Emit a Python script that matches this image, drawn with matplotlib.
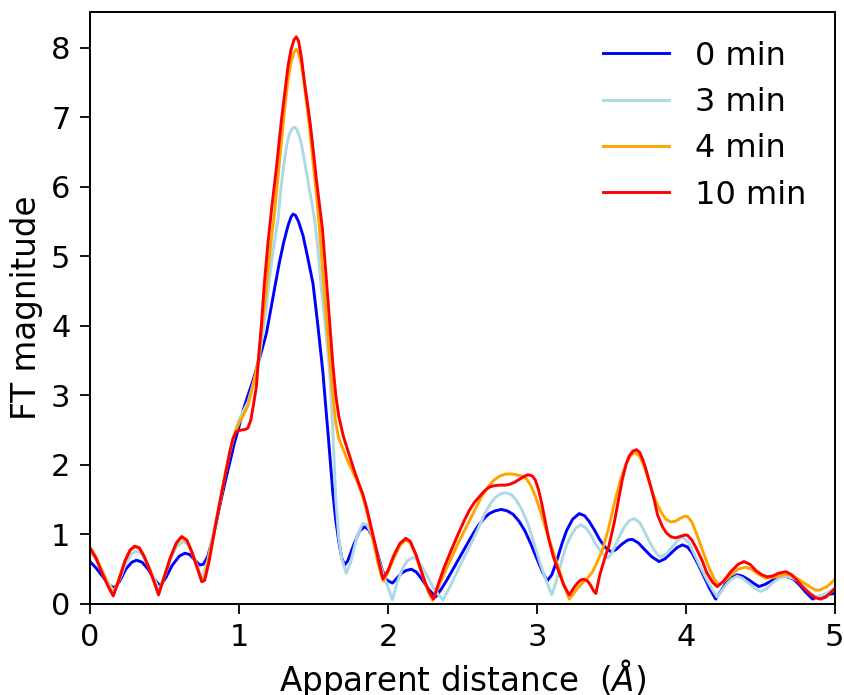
import matplotlib
matplotlib.use("Agg")
import matplotlib.pyplot as plt

# values
x_0min = [0.0, 0.04, 0.09, 0.13, 0.163, 0.20, 0.24, 0.28, 0.313, 0.35, 0.39, 0.43,
          0.47, 0.51, 0.55, 0.60, 0.637, 0.67, 0.70, 0.737, 0.76, 0.79, 0.83, 0.88,
          0.91, 0.94, 0.97, 1.0, 1.03, 1.06, 1.095, 1.14, 1.184, 1.21, 1.24, 1.27,
          1.30, 1.33, 1.35, 1.363, 1.38, 1.40, 1.43, 1.46, 1.497, 1.53, 1.564, 1.58,
          1.60, 1.615, 1.63, 1.65, 1.67, 1.69, 1.709, 1.73, 1.77, 1.81, 1.843, 1.87,
          1.90, 1.93, 1.96, 1.99, 2.03, 2.06, 2.09, 2.12, 2.156, 2.19, 2.22, 2.27,
          2.32, 2.36, 2.40, 2.45, 2.50, 2.547, 2.58, 2.61, 2.65, 2.68, 2.72, 2.76,
          2.80, 2.84, 2.88, 2.92, 2.96, 3.00, 3.04, 3.07, 3.10, 3.13, 3.17, 3.20,
          3.24, 3.284, 3.32, 3.35, 3.39, 3.42, 3.46, 3.497, 3.53, 3.57, 3.61, 3.64,
          3.68, 3.72, 3.77, 3.82, 3.86, 3.90, 3.94, 3.976, 4.01, 4.04, 4.08, 4.12,
          4.16, 4.20, 4.24, 4.27, 4.31, 4.345, 4.38, 4.42, 4.46, 4.49, 4.53, 4.58,
          4.62, 4.67, 4.72, 4.76, 4.80, 4.85, 4.88, 4.92, 4.96, 5.0]
y_0min = [0.61, 0.52, 0.38, 0.27, 0.23, 0.33, 0.50, 0.60, 0.63, 0.60, 0.50, 0.36,
          0.26, 0.38, 0.55, 0.69, 0.73, 0.71, 0.64, 0.56, 0.57, 0.68, 1.0, 1.5,
          1.78, 2.05, 2.32, 2.55, 2.80, 3.0, 3.22, 3.55, 3.89, 4.2, 4.55, 4.9,
          5.2, 5.45, 5.57, 5.61, 5.59, 5.5, 5.3, 5.0, 4.61, 4.0, 3.32, 2.9,
          2.4, 2.0, 1.6, 1.2, 0.9, 0.66, 0.56, 0.62, 0.85, 1.05, 1.11, 1.07,
          0.95, 0.72, 0.5, 0.345, 0.30, 0.37, 0.44, 0.48, 0.50, 0.46, 0.38, 0.22,
          0.10, 0.22, 0.36, 0.55, 0.74, 0.92, 1.04, 1.14, 1.24, 1.30, 1.34, 1.36,
          1.34, 1.29, 1.19, 1.05, 0.86, 0.65, 0.45, 0.335, 0.42, 0.60, 0.88, 1.06,
          1.22, 1.30, 1.27, 1.19, 1.05, 0.93, 0.81, 0.75, 0.78, 0.86, 0.92, 0.93,
          0.88, 0.79, 0.68, 0.61, 0.65, 0.73, 0.81, 0.85, 0.82, 0.74, 0.58, 0.40,
          0.22, 0.07, 0.20, 0.30, 0.38, 0.42, 0.40, 0.35, 0.29, 0.25, 0.28, 0.34,
          0.38, 0.40, 0.36, 0.28, 0.18, 0.07, 0.10, 0.12, 0.14, 0.15]

x_3min = [0.0, 0.04, 0.09, 0.13, 0.16, 0.20, 0.24, 0.28, 0.31, 0.35, 0.39, 0.43,
          0.465, 0.50, 0.54, 0.58, 0.625, 0.66, 0.69, 0.72, 0.745, 0.76, 0.79, 0.83,
          0.88, 0.91, 0.94, 0.97, 1.0, 1.03, 1.06, 1.1, 1.13, 1.15, 1.18, 1.2,
          1.23, 1.262, 1.28, 1.30, 1.32, 1.34, 1.36, 1.375, 1.39, 1.41, 1.43, 1.45,
          1.47, 1.486, 1.508, 1.53, 1.55, 1.58, 1.61, 1.63, 1.65, 1.67, 1.69, 1.72,
          1.75, 1.79, 1.83, 1.86, 1.89, 1.92, 1.95, 1.99, 2.03, 2.06, 2.10, 2.13,
          2.167, 2.20, 2.23, 2.27, 2.30, 2.34, 2.37, 2.41, 2.45, 2.50, 2.547, 2.60,
          2.65, 2.69, 2.72, 2.76, 2.79, 2.83, 2.86, 2.90, 2.94, 2.98, 3.02, 3.06,
          3.10, 3.13, 3.17, 3.20, 3.23, 3.26, 3.295, 3.33, 3.36, 3.39, 3.42, 3.45,
          3.474, 3.50, 3.53, 3.56, 3.59, 3.62, 3.653, 3.69, 3.72, 3.75, 3.78, 3.81,
          3.83, 3.87, 3.90, 3.94, 3.976, 4.02, 4.06, 4.10, 4.14, 4.18, 4.21, 4.25,
          4.28, 4.31, 4.345, 4.38, 4.42, 4.46, 4.50, 4.54, 4.58, 4.62, 4.67, 4.72,
          4.77, 4.82, 4.87, 4.91, 4.95, 5.0]
y_3min = [0.75, 0.64, 0.45, 0.28, 0.18, 0.36, 0.58, 0.72, 0.76, 0.71, 0.57, 0.37,
          0.20, 0.40, 0.64, 0.82, 0.90, 0.85, 0.72, 0.55, 0.40, 0.42, 0.62, 1.05,
          1.55, 1.9, 2.2, 2.45, 2.65, 2.78, 2.9, 3.2, 3.45, 3.75, 4.2, 4.6,
          5.1, 5.53, 5.95, 6.3, 6.6, 6.77, 6.85, 6.86, 6.82, 6.7, 6.5, 6.25,
          6.0, 5.81, 5.53, 5.1, 4.6, 4.0, 3.3, 2.5, 1.5, 0.95, 0.65, 0.44,
          0.6, 0.95, 1.16, 1.14, 1.0, 0.78, 0.55, 0.30, 0.06, 0.30, 0.52, 0.62,
          0.67, 0.63, 0.53, 0.38, 0.25, 0.13, 0.06, 0.22, 0.40, 0.62, 0.82, 1.06,
          1.30, 1.45, 1.53, 1.59, 1.60, 1.57, 1.50, 1.35, 1.15, 0.88, 0.60, 0.35,
          0.13, 0.33, 0.65, 0.85, 0.99, 1.09, 1.14, 1.09, 1.00, 0.88, 0.78, 0.70,
          0.66, 0.72, 0.86, 1.00, 1.12, 1.20, 1.23, 1.17, 1.05, 0.92, 0.80, 0.71,
          0.68, 0.72, 0.80, 0.90, 0.97, 0.88, 0.70, 0.52, 0.35, 0.20, 0.10, 0.22,
          0.30, 0.36, 0.40, 0.37, 0.30, 0.23, 0.18, 0.22, 0.30, 0.36, 0.40, 0.37,
          0.30, 0.19, 0.10, 0.12, 0.16, 0.22]

x_4min = [0.0, 0.04, 0.08, 0.12, 0.156, 0.19, 0.235, 0.27, 0.30, 0.33, 0.36, 0.39,
          0.43, 0.46, 0.50, 0.54, 0.58, 0.615, 0.65, 0.68, 0.72, 0.75, 0.77, 0.80,
          0.84, 0.875, 0.91, 0.94, 0.97, 1.0, 1.03, 1.06, 1.1, 1.13, 1.15, 1.18,
          1.2, 1.22, 1.24, 1.26, 1.285, 1.31, 1.33, 1.35, 1.37, 1.385, 1.40, 1.42,
          1.44, 1.46, 1.479, 1.50, 1.52, 1.54, 1.56, 1.58, 1.61, 1.63, 1.65, 1.67,
          1.70, 1.73, 1.76, 1.79, 1.81, 1.84, 1.87, 1.90, 1.93, 1.95, 1.97, 2.00,
          2.04, 2.08, 2.12, 2.15, 2.18, 2.21, 2.24, 2.27, 2.30, 2.34, 2.38, 2.43,
          2.47, 2.51, 2.547, 2.59, 2.63, 2.67, 2.71, 2.75, 2.79, 2.83, 2.86, 2.90,
          2.93, 2.96, 2.99, 3.02, 3.05, 3.08, 3.105, 3.14, 3.17, 3.20, 3.217, 3.24,
          3.27, 3.30, 3.33, 3.37, 3.40, 3.44, 3.48, 3.52, 3.56, 3.60, 3.63, 3.66,
          3.69, 3.72, 3.75, 3.78, 3.81, 3.84, 3.865, 3.898, 3.93, 3.96, 3.99, 4.01,
          4.04, 4.07, 4.11, 4.15, 4.19, 4.22, 4.26, 4.30, 4.35, 4.40, 4.44, 4.47,
          4.51, 4.54, 4.58, 4.62, 4.66, 4.69, 4.73, 4.78, 4.83, 4.87, 4.90, 4.94,
          4.97, 5.0]
y_4min = [0.82, 0.68, 0.48, 0.28, 0.14, 0.33, 0.62, 0.77, 0.82, 0.80, 0.70, 0.55,
          0.33, 0.15, 0.40, 0.67, 0.87, 0.95, 0.90, 0.76, 0.52, 0.35, 0.37, 0.70,
          1.1, 1.5, 1.9, 2.2, 2.45, 2.6, 2.72, 2.85, 3.2, 3.5, 3.9, 4.45,
          4.9, 5.3, 5.65, 6.1, 6.65, 7.2, 7.55, 7.8, 7.94, 7.98, 7.93, 7.75,
          7.45, 7.1, 6.75, 6.3, 5.9, 5.4, 4.85, 4.3, 3.5, 3.0, 2.6, 2.38,
          2.22, 2.06, 1.92, 1.78, 1.68, 1.48, 1.22, 0.92, 0.62, 0.45, 0.33, 0.45,
          0.66, 0.84, 0.92, 0.88, 0.74, 0.55, 0.36, 0.18, 0.05, 0.25, 0.45, 0.68,
          0.87, 1.04, 1.20, 1.38, 1.55, 1.68, 1.78, 1.84, 1.87, 1.87, 1.86, 1.84,
          1.80, 1.70, 1.55, 1.36, 1.15, 0.94, 0.78, 0.55, 0.35, 0.17, 0.07, 0.13,
          0.22, 0.29, 0.35, 0.45, 0.58, 0.78, 1.08, 1.45, 1.78, 2.02, 2.14, 2.18,
          2.12, 1.98, 1.78, 1.58, 1.42, 1.30, 1.22, 1.18, 1.19, 1.23, 1.26, 1.26,
          1.18, 1.02, 0.78, 0.55, 0.36, 0.27, 0.33, 0.41, 0.50, 0.53, 0.50, 0.45,
          0.40, 0.37, 0.38, 0.40, 0.42, 0.42, 0.39, 0.32, 0.25, 0.20, 0.20, 0.24,
          0.29, 0.355]

x_10min = [0.0, 0.04, 0.08, 0.12, 0.156, 0.19, 0.235, 0.27, 0.30, 0.33, 0.36, 0.39,
           0.43, 0.46, 0.50, 0.54, 0.58, 0.615, 0.65, 0.68, 0.72, 0.75, 0.77, 0.80,
           0.84, 0.875, 0.91, 0.94, 0.96, 0.983, 1.01, 1.04, 1.06, 1.08, 1.10, 1.117,
           1.13, 1.15, 1.17, 1.195, 1.22, 1.25, 1.27, 1.285, 1.31, 1.33, 1.35, 1.37,
           1.385, 1.40, 1.42, 1.44, 1.46, 1.479, 1.50, 1.52, 1.54, 1.56, 1.58, 1.60,
           1.63, 1.65, 1.67, 1.70, 1.72, 1.75, 1.78, 1.81, 1.83, 1.86, 1.89, 1.92,
           1.94, 1.966, 2.00, 2.04, 2.08, 2.12, 2.15, 2.19, 2.22, 2.25, 2.28, 2.306,
           2.34, 2.38, 2.43, 2.47, 2.51, 2.547, 2.58, 2.62, 2.65, 2.68, 2.71, 2.75,
           2.79, 2.815, 2.85, 2.88, 2.91, 2.94, 2.97, 2.99, 3.01, 3.03, 3.055, 3.08,
           3.11, 3.15, 3.18, 3.217, 3.25, 3.28, 3.30, 3.318, 3.34, 3.36, 3.38, 3.396,
           3.42, 3.45, 3.485, 3.52, 3.55, 3.574, 3.60, 3.62, 3.645, 3.668, 3.69, 3.71,
           3.73, 3.76, 3.787, 3.81, 3.843, 3.87, 3.898, 3.93, 3.96, 3.99, 4.01, 4.04,
           4.07, 4.11, 4.14, 4.18, 4.21, 4.25, 4.30, 4.35, 4.39, 4.43, 4.47, 4.51,
           4.546, 4.58, 4.62, 4.67, 4.71, 4.75, 4.79, 4.83, 4.87, 4.904, 4.94, 4.97,
           5.0]
y_10min = [0.80, 0.66, 0.45, 0.26, 0.115, 0.32, 0.62, 0.78, 0.83, 0.81, 0.70, 0.55,
           0.32, 0.13, 0.40, 0.67, 0.88, 0.97, 0.92, 0.77, 0.52, 0.32, 0.34, 0.62,
           1.1, 1.5, 1.88, 2.2, 2.38, 2.48, 2.50, 2.51, 2.53, 2.65, 2.9, 3.13,
           3.5, 4.0, 4.6, 5.2, 5.7, 6.25, 6.65, 6.96, 7.4, 7.75, 7.98, 8.12,
           8.16, 8.10, 7.85, 7.5, 7.2, 6.9, 6.5, 6.1, 5.75, 5.4, 4.85, 4.3,
           3.45, 3.0, 2.7, 2.42, 2.28, 2.08, 1.88, 1.70, 1.59, 1.36, 1.08, 0.80,
           0.60, 0.36, 0.48, 0.70, 0.87, 0.945, 0.90, 0.70, 0.50, 0.31, 0.16, 0.07,
           0.30, 0.54, 0.80, 1.00, 1.19, 1.35, 1.46, 1.56, 1.63, 1.68, 1.70, 1.71,
           1.71, 1.72, 1.75, 1.79, 1.83, 1.86, 1.84, 1.78, 1.65, 1.47, 1.2, 0.93,
           0.68, 0.45, 0.27, 0.13, 0.24, 0.32, 0.35, 0.355, 0.33, 0.27, 0.19, 0.15,
           0.40, 0.62, 0.85, 1.18, 1.52, 1.80, 2.02, 2.13, 2.20, 2.22, 2.18, 2.08,
           1.95, 1.72, 1.50, 1.28, 1.11, 1.02, 0.97, 0.95, 0.97, 0.99, 0.99, 0.92,
           0.80, 0.62, 0.45, 0.31, 0.25, 0.32, 0.46, 0.57, 0.61, 0.57, 0.48, 0.42,
           0.39, 0.40, 0.44, 0.465, 0.42, 0.33, 0.23, 0.15, 0.09, 0.07, 0.10, 0.16,
           0.225]

labels = ['0 min', '3 min', '4 min', '10 min']
colors = ['blue', 'lightblue', 'orange', 'red']

tick_fs = 22
label_fs = 23.5
legend_fs = 23

fig = plt.figure(figsize=(8.45, 6.95), dpi=100)
ax = fig.add_axes([0.1065, 0.131, 0.8815, 0.852])

series = [(x_0min, y_0min), (x_3min, y_3min), (x_4min, y_4min), (x_10min, y_10min)]
for (xs, ys), lab, col in zip(series, labels, colors):
    ax.plot(xs, ys, color=col, lw=2.1, label=lab)

ax.set_xlim(0, 5)
ax.set_ylim(0, 8.52)
ax.set_xticks([0, 1, 2, 3, 4, 5])
ax.set_yticks(range(9))
ax.tick_params(labelsize=tick_fs, length=7, width=1.3, pad=7)
for s in ax.spines.values():
    s.set_linewidth(1.4)

ax.set_xlabel(r'Apparent distance  ($\AA$)', fontsize=label_fs, labelpad=3)
ax.set_ylabel('FT magnitude', fontsize=label_fs, labelpad=6)
ax.legend(loc='upper right', frameon=False, fontsize=legend_fs, handlelength=2.07,
          handletextpad=0.8, labelspacing=0.48)

fig.savefig('out.png', dpi=100)
